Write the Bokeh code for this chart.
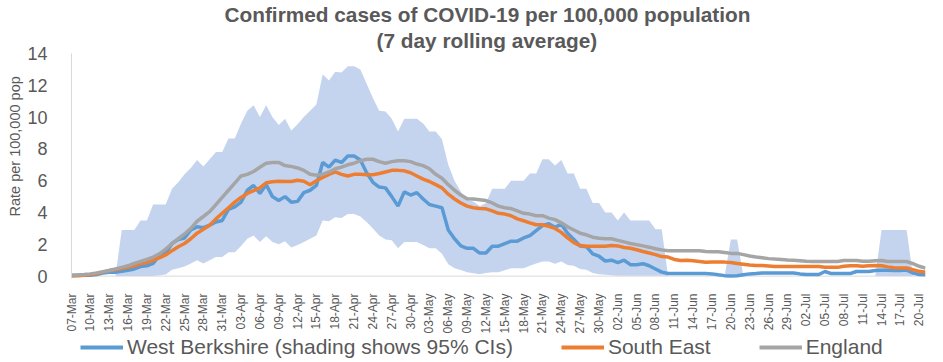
import math
from bokeh.plotting import figure
from bokeh.layouts import column
from bokeh.models import (Range1d, FixedTicker, Legend, LegendItem, Title, Span)
from bokeh.embed import file_html
from bokeh.resources import INLINE

# ---------------- data (one value per day, 07-Mar .. 21-Jul) ----------------
west_berkshire = [
    0.05, 0.05, 0.05, 0.05, 0.1, 0.2, 0.25, 0.25, 0.3, 0.37,
    0.45, 0.6, 0.65, 0.8, 1.3, 1.45, 2.05, 2.3, 2.4, 2.9,
    3.1, 3.05, 3.2, 3.4, 3.5, 4.2, 4.35, 4.65, 5.4, 5.7,
    5.2, 5.75, 5.0, 4.75, 5.0, 4.65, 4.7, 5.25, 5.4, 5.7,
    7.15, 6.85, 7.3, 7.15, 7.55, 7.55, 7.3, 6.5, 5.9, 5.6,
    5.55, 5.0, 4.4, 5.3, 5.1, 5.25, 4.85, 4.5, 4.4, 4.3,
    2.9, 2.35, 1.9, 1.75, 1.75, 1.45, 1.45, 1.88, 1.88, 2.05,
    2.2, 2.2, 2.4, 2.55, 2.86, 3.17, 3.3, 3.07, 3.27, 2.7,
    2.3, 1.9, 1.85, 1.4, 1.25, 0.95, 1.0, 0.85, 1.0, 0.72,
    0.72, 0.78, 0.65, 0.45, 0.25, 0.16, 0.16, 0.16, 0.16, 0.16,
    0.16, 0.16, 0.14, 0.08, 0.03, 0.0, 0.02, 0.08, 0.14, 0.16,
    0.2, 0.2, 0.2, 0.2, 0.2, 0.2, 0.14, 0.1, 0.1, 0.1,
    0.29, 0.16, 0.16, 0.16, 0.16, 0.29, 0.29, 0.29, 0.35, 0.37,
    0.37, 0.35, 0.35, 0.38, 0.2, 0.1, 0.08,
]
south_east = [
    0.0, 0.02, 0.05, 0.08, 0.15, 0.25, 0.35, 0.4, 0.48, 0.55,
    0.65, 0.78, 0.85, 1.0, 1.15, 1.33, 1.6, 1.85, 2.05, 2.35,
    2.7, 2.95, 3.2, 3.6, 3.95, 4.3, 4.65, 4.95, 5.2, 5.38,
    5.55, 5.87, 5.93, 5.97, 5.95, 5.95, 6.03, 5.97, 5.75, 6.0,
    6.2, 6.4, 6.55, 6.4, 6.3, 6.4, 6.4, 6.38, 6.38, 6.45,
    6.55, 6.65, 6.65, 6.62, 6.5, 6.3, 6.1, 5.95, 5.75, 5.55,
    5.15, 4.85, 4.6, 4.4, 4.3, 4.25, 4.23, 4.1, 3.95, 3.9,
    3.8, 3.6, 3.48, 3.35, 3.23, 3.23, 3.13, 3.0, 2.75, 2.4,
    2.1, 1.92, 1.88, 1.88, 1.88, 1.88, 1.92, 1.9, 1.8, 1.75,
    1.66, 1.55, 1.45, 1.35, 1.23, 1.2, 1.05, 0.98, 1.0, 0.97,
    0.92, 0.87, 0.88, 0.88, 0.88, 0.85, 0.8, 0.75, 0.7, 0.67,
    0.67, 0.64, 0.61, 0.61, 0.61, 0.61, 0.61, 0.61, 0.61, 0.61,
    0.56, 0.55, 0.55, 0.62, 0.65, 0.65, 0.62, 0.65, 0.67, 0.65,
    0.58, 0.52, 0.51, 0.51, 0.4, 0.3, 0.25,
]
england = [
    0.05, 0.07, 0.1, 0.14, 0.2, 0.28, 0.35, 0.45, 0.55, 0.65,
    0.8, 0.92, 1.05, 1.2, 1.4, 1.7, 2.05, 2.35, 2.65, 3.0,
    3.45, 3.75, 4.05, 4.5, 4.95, 5.4, 5.85, 6.3, 6.4, 6.58,
    6.85, 7.1, 7.15, 7.15, 6.95, 6.9, 6.8, 6.65, 6.4, 6.35,
    6.4, 6.55, 6.75, 6.85, 7.0, 7.1, 7.25, 7.35, 7.35, 7.2,
    7.1, 7.2, 7.25, 7.25, 7.2, 7.05, 6.95, 6.75, 6.4, 6.15,
    5.75, 5.4, 5.1, 4.87, 4.85, 4.8, 4.75, 4.6, 4.4, 4.3,
    4.25, 4.1, 3.95, 3.9, 3.8, 3.8, 3.65, 3.55, 3.35, 3.1,
    2.9, 2.7, 2.6, 2.45, 2.38, 2.35, 2.35, 2.25, 2.15, 2.05,
    1.98, 1.9, 1.82, 1.72, 1.65, 1.6, 1.6, 1.6, 1.6, 1.6,
    1.6, 1.55, 1.53, 1.53, 1.48, 1.43, 1.43, 1.35, 1.27, 1.2,
    1.15, 1.1, 1.07, 1.05, 1.02, 1.0, 0.97, 0.93, 0.92, 0.92,
    0.92, 0.92, 0.92, 0.98, 0.98, 0.98, 0.93, 0.93, 0.96, 0.98,
    0.92, 0.92, 0.92, 0.92, 0.78, 0.62, 0.5,
]
ci_upper = [
    0, 0, 0, 0, 0, 0, 0, 0, 2.9, 2.9,
    2.9, 3.5, 3.5, 4.5, 4.5, 4.5, 5.5, 5.9, 6.4, 6.8,
    7.3, 6.9, 7.35, 7.8, 7.8, 8.65, 8.65, 9.6, 10.4, 10.75,
    10.0, 10.75, 10.0, 9.5, 9.9, 9.15, 9.55, 10.0, 10.4, 10.8,
    12.7, 12.3, 12.85, 12.8, 13.2, 13.2, 13.0, 12.1, 11.2, 10.4,
    10.35, 9.9, 9.1, 9.9, 9.9, 9.9, 9.6, 9.1, 9.1, 8.6,
    7.0, 6.0, 5.3, 4.8, 4.7, 4.4, 4.6, 5.5, 5.5, 5.5,
    6.0, 6.0, 6.0, 6.45, 6.45, 7.35, 7.35, 6.95, 7.3, 6.45,
    6.45, 5.5, 5.5, 4.6, 4.6, 4.0, 4.0, 3.5, 4.0, 3.5,
    3.5, 3.5, 3.5, 2.95, 2.95, 0, 0, 0, 0, 0,
    0, 0, 0, 0, 0, 2.3, 2.3, 0, 0, 0,
    0, 0, 0, 0, 0, 0, 0, 0, 0, 0,
    0, 0, 0, 0, 0, 0, 0, 0, 0, 2.9,
    2.9, 2.9, 2.9, 2.9, 0, 0, 0,
]
ci_lower = [
    0, 0, 0, 0, 0, 0, 0, 0, 0, 0,
    0, 0, 0, 0, 0.05, 0.1, 0.4, 0.5, 0.6, 0.8,
    1.0, 0.8, 1.0, 1.2, 1.2, 1.5, 1.5, 1.9, 2.35, 2.55,
    2.15, 2.5, 2.15, 2.0, 2.2, 1.8, 1.95, 2.15, 2.35, 2.55,
    3.5, 3.45, 3.7, 3.65, 3.9, 3.9, 3.75, 3.4, 3.0, 2.55,
    2.3, 2.25, 1.75, 2.15, 2.15, 2.15, 1.95, 1.75, 1.75, 1.4,
    0.75, 0.5, 0.38, 0.25, 0.18, 0.12, 0.2, 0.25, 0.25, 0.37,
    0.5, 0.5, 0.5, 0.65, 0.8, 0.92, 0.92, 0.78, 0.92, 0.7,
    0.65, 0.45, 0.4, 0.2, 0.12, 0.08, 0.05, 0.02, 0.02, 0.02,
    0.02, 0.02, 0.02, 0.02, 0.02, 0, 0, 0, 0, 0,
    0, 0, 0, 0, 0, 0, 0, 0, 0, 0,
    0, 0, 0, 0, 0, 0, 0, 0, 0, 0,
    0, 0, 0, 0, 0, 0, 0, 0, 0, 0,
    0, 0, 0, 0, 0, 0, 0,
]
tick_labels = [
    "07-Mar", "10-Mar", "13-Mar", "16-Mar", "19-Mar", "22-Mar", "25-Mar", "28-Mar", "31-Mar",
    "03-Apr", "06-Apr", "09-Apr", "12-Apr", "15-Apr", "18-Apr", "21-Apr", "24-Apr", "27-Apr", "30-Apr",
    "03-May", "06-May", "09-May", "12-May", "15-May", "18-May", "21-May", "24-May", "27-May", "30-May",
    "02-Jun", "05-Jun", "08-Jun", "11-Jun", "14-Jun", "17-Jun", "20-Jun", "23-Jun", "26-Jun", "29-Jun",
    "02-Jul", "05-Jul", "08-Jul", "11-Jul", "14-Jul", "17-Jul", "20-Jul",
]
series_names = ["West Berkshire (shading shows 95% CIs)", "South East", "England"]
series_colors = ["#5B9BD5", "#ED7D31", "#A5A5A5"]
tick_step = 3
y_ticks = [0, 2, 4, 6, 8, 10, 12, 14]

days = list(range(len(west_berkshire)))
tick_pos = [i * tick_step for i in range(len(tick_labels))]
all_series = [west_berkshire, south_east, england]

TXT = "#595959"
FONT = "Liberation Sans"

# ---------------- main chart ----------------
p = figure(width=943, height=336, output_backend="svg", toolbar_location=None,
           x_range=Range1d(0, len(days) - 1), y_range=Range1d(-0.15, 14),
           min_border_left=71, min_border_right=18, min_border_top=52,
           min_border_bottom=54, title=None)
p.outline_line_color = None
p.xgrid.grid_line_color = None
p.ygrid.grid_line_color = None
p.background_fill_color = "white"
p.border_fill_color = "white"

p.varea(x=days, y1=ci_lower, y2=ci_upper, fill_color="#C5D4EE", fill_alpha=1.0)
for vals, col in zip(all_series, series_colors):
    p.line(days, vals, line_width=3.5, color=col)

p.add_layout(Span(location=0, dimension="width", line_color="#D9D9D9",
                  line_width=1, level="underlay"))

ya = p.yaxis[0]
ya.ticker = FixedTicker(ticks=y_ticks)
ya.major_label_text_font_size = "18px"
ya.major_label_text_color = TXT
ya.major_label_text_font = FONT
ya.major_tick_line_color = None
ya.minor_tick_line_color = None
ya.axis_line_color = "#D9D9D9"
ya.major_label_standoff = 18

xa = p.xaxis[0]
xa.ticker = FixedTicker(ticks=tick_pos)
xa.major_label_overrides = {pos: lab for pos, lab in zip(tick_pos, tick_labels)}
xa.major_label_orientation = math.pi / 2
xa.major_label_text_font_size = "12px"
xa.major_label_text_color = TXT
xa.major_label_text_font = FONT
xa.major_tick_line_color = None
xa.minor_tick_line_color = None
xa.axis_line_color = None
xa.major_label_standoff = 9

p.add_layout(Title(text="(7 day rolling average)", align="left", offset=305,
                   text_font=FONT, text_font_size="20.8px", text_font_style="bold",
                   text_color=TXT, standoff=3), "above")
p.add_layout(Title(text="Confirmed cases of COVID-19 per 100,000 population",
                   align="left", offset=153,
                   text_font=FONT, text_font_size="20.8px", text_font_style="bold",
                   text_color=TXT, standoff=0), "above")
p.add_layout(Title(text="Rate per 100,000 pop", align="left", offset=62,
                   text_font=FONT, text_font_size="14.5px", text_font_style="normal",
                   text_color=TXT, standoff=4), "left")

# ---------------- legend strip (series drawn out of view, only legend shows) ----------------
lg = figure(width=943, height=26, output_backend="svg", toolbar_location=None,
            x_range=Range1d(0, len(days) - 1), y_range=Range1d(100, 101),
            x_axis_type=None, y_axis_type=None,
            min_border_left=0, min_border_right=0, min_border_top=0,
            min_border_bottom=0, title=None)
lg.outline_line_color = None
lg.xgrid.grid_line_color = None
lg.ygrid.grid_line_color = None
items = []
for name, vals, col in zip(series_names, all_series, series_colors):
    r = lg.line(days, vals, line_width=4, color=col)
    items.append(LegendItem(label=name, renderers=[r]))
legend = Legend(items=items, location=(9, 3), orientation="horizontal")
legend.label_text_font = FONT
legend.label_text_font_size = "21px"
legend.label_text_color = TXT
legend.glyph_width = 43
legend.glyph_height = 20
legend.label_standoff = 4
legend.spacing = 48
legend.padding = 0
legend.margin = 0
legend.border_line_color = None
legend.background_fill_alpha = 0
lg.add_layout(legend, "center")

layout = column(p, lg, spacing=0)
open("out.html", "w").write(file_html(layout, INLINE))
